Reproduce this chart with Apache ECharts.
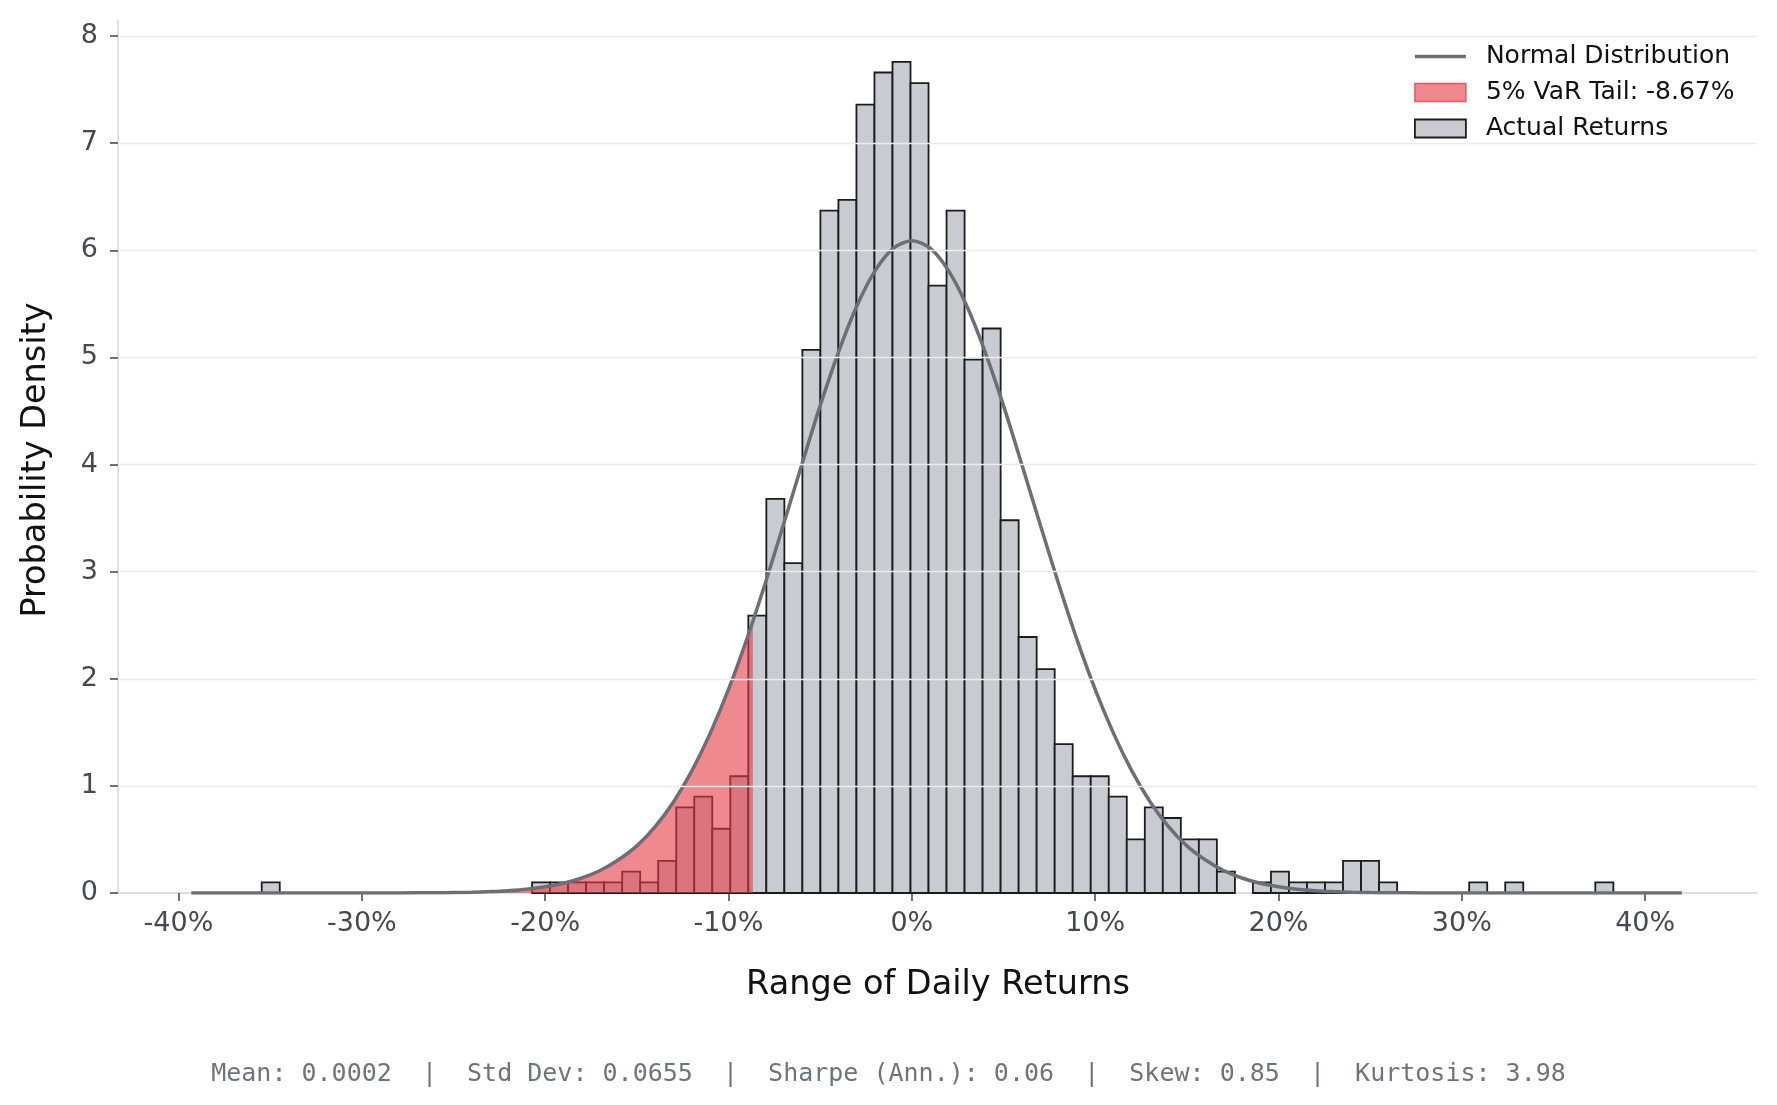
<!DOCTYPE html>
<html>
<head>
<meta charset="utf-8">
<script src="https://cdn.jsdelivr.net/npm/echarts@6/dist/echarts.min.js"></script>
<style>
html, body { margin: 0; padding: 0; background: #fff; }
#chart { width: 1777px; height: 1105px; }
</style>
</head>
<body>
<div id="chart"></div>
<script>
// histogram bins (percent units): start of first bin and bin width
const binStart = -35.46;
const binWidth = 0.983;
// density per bin (75 bins)
const density = [
  0.10, 0, 0, 0, 0, 0, 0, 0, 0, 0, 0, 0, 0, 0, 0,
  0.10, 0.10, 0.10, 0.10, 0.10, 0.20, 0.10, 0.30, 0.80, 0.90,
  0.60, 1.09, 2.59, 3.68, 3.08, 5.07, 6.37, 6.47, 7.36, 7.66,
  7.76, 7.56, 5.67, 6.37, 4.98, 5.27, 3.48, 2.39, 2.09, 1.39,
  1.09, 1.09, 0.90, 0.50, 0.80, 0.70, 0.50, 0.50, 0.20, 0,
  0.10, 0.20, 0.10, 0.10, 0.10, 0.30, 0.30, 0.10, 0, 0,
  0, 0, 0.10, 0, 0.10, 0, 0, 0, 0, 0.10
];

// normal distribution curve
const normalX = [
  -39.3, -30, -28, -26, -25, -24, -23, -22, -21, -20, -19, -18, -17, -16, -15,
  -14, -13, -12, -11, -10, -9, -8, -7, -6, -5, -4, -3, -2, -1, 0,
  1, 2, 3, 4, 5, 6, 7, 8, 9, 10, 11, 12, 13, 14, 15,
  16, 17, 18, 19, 20, 21, 22, 23, 24, 25, 26, 28, 30, 42
];
const normalY = [
  0, 0, 0.001, 0.002, 0.004, 0.007, 0.013, 0.022, 0.036, 0.058, 0.091, 0.14, 0.21, 0.31, 0.44,
  0.62, 0.85, 1.14, 1.49, 1.90, 2.37, 2.89, 3.44, 4.00, 4.55, 5.05, 5.48, 5.81, 6.02, 6.09,
  6.02, 5.81, 5.48, 5.05, 4.55, 4.00, 3.44, 2.89, 2.37, 1.90, 1.49, 1.14, 0.85, 0.62, 0.44,
  0.31, 0.21, 0.14, 0.091, 0.058, 0.036, 0.022, 0.013, 0.007, 0.004, 0.002, 0.001, 0, 0
];

const varLevel = -8.67;
const varDensity = 2.54;

const xTicks = [-40, -30, -20, -10, 0, 10, 20, 30, 40];
const yTicks = [0, 1, 2, 3, 4, 5, 6, 7, 8];

const statsText = 'Mean: 0.0002  |  Std Dev: 0.0655  |  Sharpe (Ann.): 0.06  |  Skew: 0.85  |  Kurtosis: 3.98';

const barColor = '#c8ccd2';
const barEdge = '#1c1c1c';
const tailColor = 'rgba(230,57,70,0.6)';
const lineColor = '#6c6f75';

const bars = density.map((d, i) => [binStart + i * binWidth, binStart + (i + 1) * binWidth, d]);
const curve = normalX.map((x, i) => [x, normalY[i]]);
const tail = curve.filter(p => p[0] < varLevel).concat([[varLevel, varDensity]]);

const chart = echarts.init(document.getElementById('chart'));

const option = {
  animation: false,
  textStyle: { fontFamily: 'DejaVu Sans' },
  grid: { left: 118, right: 20, top: 20, bottom: 212, containLabel: false },
  xAxis: {
    type: 'value',
    min: -43.3,
    max: 46.1,
    axisLine: { show: true, onZero: false, lineStyle: { color: '#d4d4d4', width: 1.5 } },
    axisTick: { show: true, customValues: xTicks, length: 8, lineStyle: { color: '#444', width: 1.5 } },
    axisLabel: { customValues: xTicks, formatter: '{value}%', fontSize: 27, color: '#454a50', margin: 17 },
    splitLine: { show: false }
  },
  yAxis: {
    type: 'value',
    min: 0,
    max: 8.15,
    axisLine: { show: true, onZero: false, lineStyle: { color: '#d9d9d9', width: 1.5 } },
    axisTick: { show: true, customValues: yTicks, length: 8, lineStyle: { color: '#444', width: 1.5 } },
    axisLabel: { customValues: yTicks, fontSize: 27, color: '#454a50', margin: 20 },
    splitLine: { show: false }
  },
  legend: {
    orient: 'vertical',
    left: 1409,
    top: 39,
    itemWidth: 51,
    itemHeight: 18,
    itemGap: 11,
    selectedMode: false,
    textStyle: { fontSize: 25, color: '#111', padding: [0, 0, 0, 15] },
    data: [
      { name: 'Normal Distribution', icon: 'path://M0,0H51V3.5H0Z', itemStyle: { color: lineColor, borderWidth: 0 } },
      { name: '5% VaR Tail: -8.67%', icon: 'rect', itemStyle: { color: tailColor, borderColor: 'rgba(225,70,85,0.85)', borderWidth: 1.5 } },
      { name: 'Actual Returns', icon: 'rect', itemStyle: { color: barColor, borderColor: barEdge, borderWidth: 1.8 } }
    ]
  },
  graphic: [
    {
      type: 'text', left: 'center', top: 1062,
      style: { text: statsText, font: '25px "DejaVu Sans Mono"', fill: '#6c757d' }
    },
    {
      type: 'text', x: 938, y: 985,
      style: { text: 'Range of Daily Returns', font: '33.5px "DejaVu Sans"', fill: '#111', align: 'center', verticalAlign: 'middle' }
    },
    {
      type: 'text', x: 36, y: 460, rotation: Math.PI / 2,
      style: { text: 'Probability Density', font: '33.5px "DejaVu Sans"', fill: '#111', align: 'center', verticalAlign: 'middle' }
    }
  ],
  series: [
    {
      name: 'Actual Returns',
      type: 'custom',
      z: 1,
      itemStyle: { color: barColor },
      encode: { x: [0, 1], y: 2 },
      data: bars,
      renderItem: function (params, api) {
        const h = api.value(2);
        if (!h) return null;
        const p0 = api.coord([api.value(0), h]);
        const p1 = api.coord([api.value(1), 0]);
        return {
          type: 'rect',
          shape: { x: p0[0], y: p0[1], width: p1[0] - p0[0], height: p1[1] - p0[1] },
          style: { fill: barColor, stroke: barEdge, lineWidth: 1.8 }
        };
      }
    },
    {
      name: 'grid',
      type: 'line',
      z: 2,
      silent: true,
      data: [],
      markLine: {
        silent: true,
        symbol: 'none',
        label: { show: false },
        lineStyle: { color: '#ebebeb', width: 1.3, type: 'solid' },
        data: yTicks.filter(v => v > 0).map(v => ({ yAxis: v }))
      }
    },
    {
      name: '5% VaR Tail: -8.67%',
      type: 'line',
      z: 3,
      data: tail,
      symbol: 'none',
      smooth: 0.3,
      lineStyle: { width: 0 },
      itemStyle: { color: tailColor },
      areaStyle: { color: tailColor, opacity: 1 }
    },
    {
      name: 'Normal Distribution',
      type: 'line',
      z: 4,
      data: curve,
      symbol: 'none',
      smooth: 0.3,
      lineStyle: { color: lineColor, width: 3.5 },
      itemStyle: { color: lineColor }
    }
  ]
};

chart.setOption(option);
</script>
</body>
</html>
